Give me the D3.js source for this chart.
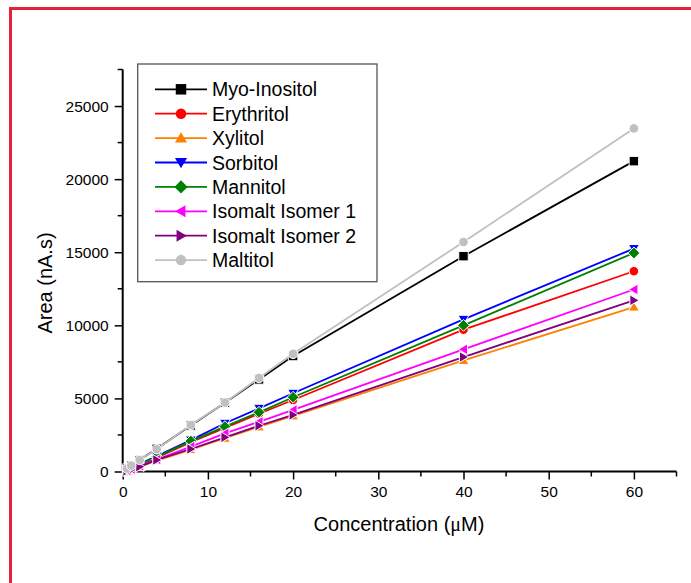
<!DOCTYPE html>
<html>
<head>
<meta charset="utf-8">
<script src="https://cdn.jsdelivr.net/npm/d3@7/dist/d3.min.js"></script>
<style>
  html, body { margin: 0; padding: 0; background: #fff; }
  svg { display: block; font-family: "Liberation Sans", Arial, sans-serif; }
</style>
</head>
<body>
<svg id="chart" width="691" height="583"></svg>
<script>
// Concentrations (µM) shared by every calibration series
const concentrations = [0.5, 1, 2, 4, 8, 12, 16, 20, 40, 60];

// Peak areas (nA.s) per analyte
const myoInositol   = [190, 390, 780, 1550, 3150, 4700, 6300, 7900, 14730, 21230];
const erythritol    = [110, 230, 470, 950, 2000, 2980, 3950, 4890, 9700, 13700];
const xylitol       = [40, 130, 330, 750, 1500, 2280, 3050, 3800, 7600, 11250];
const sorbitol      = [130, 260, 530, 1060, 2150, 3300, 4320, 5350, 10410, 15250];
const mannitol      = [120, 250, 500, 1000, 2080, 3070, 4050, 5080, 10000, 14950];
const isomalt1      = [60, 170, 380, 820, 1700, 2610, 3400, 4210, 8360, 12450];
const isomalt2      = [30, 120, 330, 790, 1540, 2340, 3130, 3870, 7830, 11710];
const maltitol      = [195, 400, 790, 1520, 3180, 4710, 6400, 8050, 15700, 23470];

const seriesNames  = ["Myo-Inositol", "Erythritol", "Xylitol", "Sorbitol", "Mannitol",
                      "Isomalt Isomer 1", "Isomalt Isomer 2", "Maltitol"];
const seriesValues = [myoInositol, erythritol, xylitol, sorbitol, mannitol,
                      isomalt1, isomalt2, maltitol];
const seriesColors = ["#000000", "#ff0000", "#ff8000", "#0000ff", "#008000",
                      "#ff00ff", "#800080", "#c0c0c0"];
const seriesShapes = ["square", "circle", "triUp", "triDown", "diamond",
                      "triLeft", "triRight", "circle"];

const xTicks = [0, 10, 20, 30, 40, 50, 60];
const yTicks = [0, 5000, 10000, 15000, 20000, 25000];

const svg = d3.select("#chart");

// Page background and red frame
svg.append("rect").attr("width", 691).attr("height", 583).attr("fill", "#fff");
svg.append("rect")
  .attr("x", 10.5).attr("y", 8.5).attr("width", 700).attr("height", 600)
  .attr("fill", "none").attr("stroke", "#e2233b").attr("stroke-width", 3);

const x = d3.scaleLinear().domain([0, 65]).range([122.7, 676.5]);
const y = d3.scaleLinear().domain([0, 27500]).range([471.5, 69.5]);

// Marker path generator for each shape
function markerPath(shape, s) {
  const h = s / 2;
  switch (shape) {
    case "square":  return `M${-h},${-h}H${h}V${h}H${-h}Z`;
    case "circle":  return d3.symbol(d3.symbolCircle, Math.PI * h * h)();
    case "diamond": return `M0,${-h * 1.25}L${h * 1.25},0L0,${h * 1.25}L${-h * 1.25},0Z`;
    case "triUp":   return `M0,${-h * 1.1}L${h * 1.15},${h * 0.85}L${-h * 1.15},${h * 0.85}Z`;
    case "triDown": return `M0,${h * 1.1}L${h * 1.15},${-h * 0.85}L${-h * 1.15},${-h * 0.85}Z`;
    case "triLeft": return `M${-h * 1.1},0L${h * 0.85},${-h * 1.15}L${h * 0.85},${h * 1.15}Z`;
    case "triRight":return `M${h * 1.1},0L${-h * 0.85},${-h * 1.15}L${-h * 0.85},${h * 1.15}Z`;
  }
}

// Axes
const xAxis = d3.axisBottom(x).tickValues(xTicks).tickSize(8).tickPadding(6).tickFormat(d3.format("d"));
const yAxis = d3.axisLeft(y).tickValues(yTicks).tickSize(8).tickPadding(6).tickFormat(d3.format("d"));

const gx = svg.append("g").attr("transform", `translate(0,${y(0)})`).call(xAxis);
const gy = svg.append("g").attr("transform", `translate(${x(0)},0)`).call(yAxis);

// Minor ticks
svg.append("g").selectAll("line").data(d3.range(5, 66, 10)).join("line")
  .attr("x1", d => x(d)).attr("x2", d => x(d))
  .attr("y1", y(0)).attr("y2", y(0) + 5)
  .attr("stroke", "#000").attr("stroke-width", 1.5);
svg.append("g").selectAll("line").data(d3.range(2500, 27501, 5000)).join("line")
  .attr("y1", d => y(d)).attr("y2", d => y(d))
  .attr("x1", x(0)).attr("x2", x(0) - 5)
  .attr("stroke", "#000").attr("stroke-width", 1.5);

[gx, gy].forEach(g => {
  g.select(".domain").attr("stroke", "#000").attr("stroke-width", 2);
  g.selectAll(".tick line").attr("stroke", "#000").attr("stroke-width", 1.5);
  g.selectAll(".tick text").attr("font-size", "15.5px").attr("fill", "#000")
    .attr("font-family", "\"Liberation Sans\", Arial, sans-serif");
});
gx.select(".domain").attr("d", `M${x(0)},0H${x(65)}`);
gy.select(".domain").attr("d", `M0,${y(0)}V${y(27500)}`);

// Axis titles
svg.append("text")
  .attr("x", 399).attr("y", 531).attr("text-anchor", "middle")
  .attr("font-size", "20px").attr("fill", "#000")
  .html('Concentration (<tspan font-family="\'Liberation Serif\', serif">μ</tspan>M)');
svg.append("text")
  .attr("transform", "translate(52,283) rotate(-90)")
  .attr("text-anchor", "middle")
  .attr("font-size", "20px").attr("fill", "#000")
  .text("Area (nA.s)");

// Series lines and markers
const line = d3.line().x(d => x(d[0])).y(d => y(d[1]));
seriesValues.forEach((vals, i) => {
  const pts = concentrations.map((c, j) => [c, vals[j]]);
  const g = svg.append("g");
  g.append("path").datum(pts).attr("d", line)
    .attr("fill", "none").attr("stroke", seriesColors[i]).attr("stroke-width", 1.8);
  g.selectAll("path.m").data(pts).join("path").attr("class", "m")
    .attr("transform", d => `translate(${x(d[0])},${y(d[1])})`)
    .attr("d", markerPath(seriesShapes[i], 9.5))
    .attr("fill", seriesColors[i])
    .attr("stroke", "#fff").attr("stroke-width", 1);
});

// Legend
const legend = svg.append("g");
legend.append("rect")
  .attr("x", 137.7).attr("y", 64).attr("width", 239.3).attr("height", 217.7)
  .attr("fill", "#fff").attr("stroke", "#555").attr("stroke-width", 1.3);
seriesNames.forEach((name, i) => {
  const cy = 89.3 + i * 24.4;
  legend.append("line").attr("x1", 155).attr("x2", 207).attr("y1", cy).attr("y2", cy)
    .attr("stroke", seriesColors[i]).attr("stroke-width", 1.8);
  legend.append("path").attr("transform", `translate(181,${cy})`)
    .attr("d", markerPath(seriesShapes[i], 10.5)).attr("fill", seriesColors[i]);
  legend.append("text").attr("x", 212).attr("y", cy).attr("dy", "0.36em")
    .attr("font-size", "19.5px").attr("fill", "#000").text(name);
});
</script>
</body>
</html>
